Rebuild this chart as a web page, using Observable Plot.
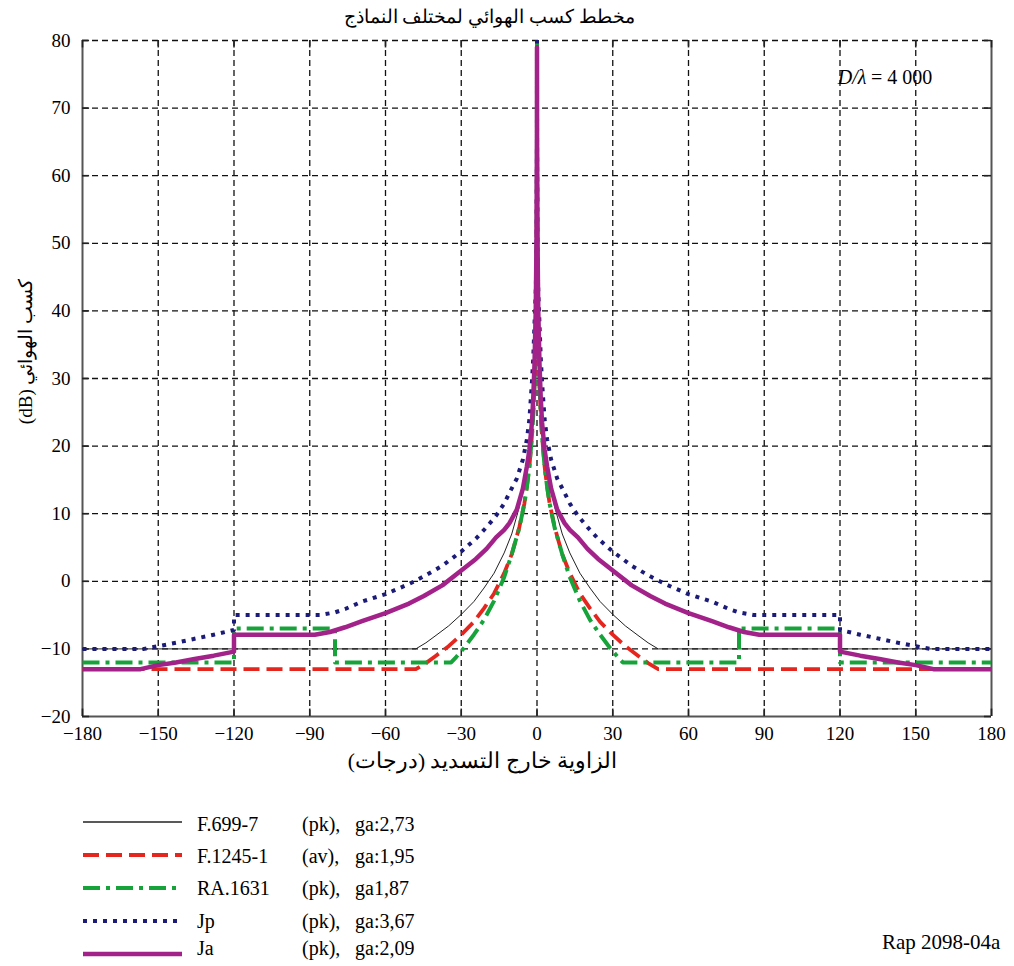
<!DOCTYPE html>
<html><head><meta charset="utf-8">
<script src="https://cdn.jsdelivr.net/npm/d3@7"></script>
<script src="https://cdn.jsdelivr.net/npm/@observablehq/plot@0.6"></script>
<style>
body{margin:0;background:#fff;font-family:"Liberation Serif","DejaVu Serif",serif;color:#000;}
#page{position:relative;width:1014px;height:966px;overflow:hidden;background:#fff;}
#title{position:absolute;top:0;left:189px;width:600px;text-align:center;font-size:19px;line-height:34px;direction:rtl;}
#chart{position:absolute;top:32px;left:0;}
#legend{position:absolute;top:800px;left:0;}
#ref{position:absolute;left:882px;top:930px;font-size:21px;}
</style></head>
<body><div id="page">
<div id="title"></div>
<div id="chart"></div>
<div id="legend"></div>
<div id="ref">Rap 2098-04a</div>
</div>
<script>
// ---- data (half-profiles, positive off-axis angles; pattern is symmetric) ----
const titleText = "مخطط كسب الهوائي لمختلف النماذج";
const xLabel = "الزاوية خارج التسديد (درجات)";
const yLabel = "كسب الهوائي (dB)";
const xTicks = [-180, -150, -120, -90, -60, -30, 0, 30, 60, 90, 120, 150, 180];
const yTicks = [-20, -10, 0, 10, 20, 30, 40, 50, 60, 70, 80];

const seriesNames = ["F.699-7", "F.1245-1", "RA.1631", "Jp", "Ja"];
const seriesNotes = ["(pk),", "(av),", "(pk),", "(pk),", "(pk),"];
const seriesGa = ["ga:2,73", "ga:1,95", "ga1,87", "ga:3,67", "ga:2,09"];

const f699Angles = [0, 0.02, 0.11, 0.3, 0.6, 1, 1.5, 2, 3, 4, 5, 7, 10, 13, 17, 21, 25, 30, 35, 40, 44, 48, 180];
const f699Gains  = [80, 64, 56, 45, 37.5, 32, 27.5, 24.5, 20, 17, 14.5, 11, 7, 4.2, 1.2, -1, -3, -4.9, -6.6, -8, -9.1, -10, -10];

const f1245Angles = [0, 0.02, 0.1, 0.3, 0.6, 1, 1.5, 2, 3, 4, 5, 7, 10, 13, 17, 21, 25, 30, 35, 40, 44, 48, 180];
const f1245Gains  = [80, 64, 54, 42, 34.5, 29, 24.6, 21.5, 17, 14, 11.5, 8, 4, 1.2, -1.8, -4, -6, -7.9, -9.6, -11, -12.1, -13, -13];

const ra1631Angles = [0, 0.02, 0.1, 0.3, 0.6, 1, 1.5, 2, 3, 4, 5, 7, 10, 13, 17, 21, 25, 29, 32, 34, 80, 80, 120, 120, 180];
const ra1631Gains  = [80, 64, 54, 42, 34.5, 29, 24.6, 21.5, 17, 14, 11.5, 7.9, 4, 0.6, -2.9, -5.7, -7.9, -9.9, -11.2, -12, -12, -7, -7, -12, -12];

const jpAngles = [0, 0.02, 0.2, 0.5, 1, 1.5, 2, 3, 4, 5.6, 8, 10.9, 13, 16.2, 20, 24.2, 30, 37.5, 45, 50.7, 60, 69.3, 76, 80, 86, 120, 120, 128, 135.6, 143, 150, 155.6, 180];
const jpGains  = [80, 66, 48, 43, 38, 33, 29.5, 24, 21, 18, 15.2, 13.1, 11.5, 9.7, 8, 6.3, 4.4, 2.3, 0.7, -0.4, -1.9, -3, -4.1, -4.6, -5, -5, -7.2, -7.9, -8.5, -9.1, -9.6, -10, -10];

const jaAngles = [0, 0.02, 0.2, 0.5, 1, 1.5, 2, 3, 4, 5.6, 8, 10.9, 13, 16.2, 20, 24.2, 30, 37.5, 45, 50.7, 60, 69.3, 76, 82, 88, 120, 120, 128, 135.6, 143, 150, 157, 180];
const jaGains  = [79, 66, 50, 40, 32, 27, 23.5, 19.5, 17, 13.7, 10.6, 8.6, 7.6, 6.5, 4.8, 3.3, 1.6, -0.6, -2.2, -3.3, -4.7, -5.9, -6.8, -7.5, -7.9, -7.9, -10.4, -11, -11.5, -12, -12.4, -13, -13];

// ---- styles ----
const styles = [
  {stroke: "#222222", strokeWidth: 1, dash: null},
  {stroke: "#e5261f", strokeWidth: 3.8, dash: "16,7"},
  {stroke: "#16a33a", strokeWidth: 4, dash: "17,6,4,6"},
  {stroke: "#1c1c78", strokeWidth: 4, dash: "4,6"},
  {stroke: "#a2228a", strokeWidth: 4.5, dash: null}
];

function mirror(angles, gains) {
  const half = angles.map((a, i) => ({a, g: gains[i]}));
  const left = half.slice(1).reverse().map(d => ({a: -d.a, g: d.g}));
  return left.concat(half);
}
const seriesData = [
  mirror(f699Angles, f699Gains),
  mirror(f1245Angles, f1245Gains),
  mirror(ra1631Angles, ra1631Gains),
  mirror(jpAngles, jpGains),
  mirror(jaAngles, jaGains)
];

const font = "'Liberation Serif', 'Times New Roman', 'DejaVu Serif', serif";

const curveMarks = seriesData.map((data, i) => Plot.line(data, {
  x: "a", y: "g",
  stroke: styles[i].stroke,
  strokeWidth: styles[i].strokeWidth,
  strokeDasharray: styles[i].dash,
  strokeLinecap: "butt",
  strokeLinejoin: "round",
  clip: true
}));

const plot = Plot.plot({
  width: 1014, height: 758,
  marginLeft: 82, marginRight: 23, marginTop: 8, marginBottom: 74,
  x: {domain: [-180, 180], axis: null},
  y: {domain: [-20, 80], axis: null},
  style: {fontFamily: font, fontSize: "19px", color: "#000", background: "#fff", overflow: "visible"},
  marks: [
    Plot.gridX(xTicks.filter(t => t > -180 && t < 180), {stroke: "#111", strokeOpacity: 1, strokeWidth: 1.3, strokeDasharray: "6,4"}),
    Plot.gridY(yTicks.filter(t => t > -20), {stroke: "#111", strokeOpacity: 1, strokeWidth: 1.3, strokeDasharray: "6,4"}),
    Plot.axisX(xTicks, {anchor: "bottom", tickSize: 0, tickPadding: 10, fontSize: 19, fontFamily: font, label: null}),
    Plot.axisY(yTicks, {anchor: "left", tickSize: 0, tickPadding: 12, fontSize: 19, fontFamily: font, label: null}),
    Plot.ruleX([-180, 180], {stroke: "#555", strokeWidth: 2}),
    Plot.ruleY([-20], {stroke: "#555", strokeWidth: 2}),
    Plot.ruleX(xTicks, {x: d => d, y1: -20, y2: -18.9, stroke: "#222", strokeWidth: 1.6}),
    Plot.ruleX(xTicks, {x: d => d, y1: 80, y2: 78.9, stroke: "#222", strokeWidth: 1.6}),
    Plot.ruleY(yTicks, {y: d => d, x1: -180, x2: -177.2, stroke: "#222", strokeWidth: 1.6}),
    Plot.ruleY(yTicks, {y: d => d, x1: 177.2, x2: 180, stroke: "#222", strokeWidth: 1.6}),
    ...curveMarks,
    Plot.text(["D/λ"], {x: 130.5, y: 74.5, text: d => d, textAnchor: "end", fontStyle: "italic", fontSize: 20}),
    Plot.text(["= 4 000"], {x: 132.3, y: 74.5, text: d => d, textAnchor: "start", fontSize: 20}),
    Plot.text([yLabel], {x: -180, y: 34, dx: -57, rotate: -90, text: d => d, fontSize: 19}),
    Plot.text([xLabel], {x: -21.6, y: -20, dy: 45, text: d => d, fontSize: 21.5})
  ]
});
d3.select(plot).selectAll("text").each(function () {
  this.style.fontFamily = font;
  if (/[\u0600-\u06FF]/.test(this.textContent)) this.setAttribute("direction", "rtl");
});
document.getElementById("chart").appendChild(plot);
document.getElementById("title").textContent = titleText;

// ---- legend ----
const rowLineY = [22, 55, 88, 121, 154];
const rowTextY = [24, 56, 88, 121, 148];
const leg = d3.create("svg").attr("width", 600).attr("height", 166)
  .style("font-family", font).style("font-size", "20px");
seriesNames.forEach((name, i) => {
  const st = styles[i];
  leg.append("line").attr("x1", 83).attr("x2", 182)
    .attr("y1", rowLineY[i]).attr("y2", rowLineY[i])
    .attr("stroke", st.stroke).attr("stroke-width", Math.max(st.strokeWidth, 1.3))
    .attr("stroke-dasharray", st.dash);
  leg.append("text").attr("x", 197).attr("y", rowTextY[i]).attr("dy", "0.35em").text(name);
  leg.append("text").attr("x", 302).attr("y", rowTextY[i]).attr("dy", "0.35em").text(seriesNotes[i]);
  leg.append("text").attr("x", 355).attr("y", rowTextY[i]).attr("dy", "0.35em").text(seriesGa[i]);
});
document.getElementById("legend").appendChild(leg.node());
</script>
</body></html>
